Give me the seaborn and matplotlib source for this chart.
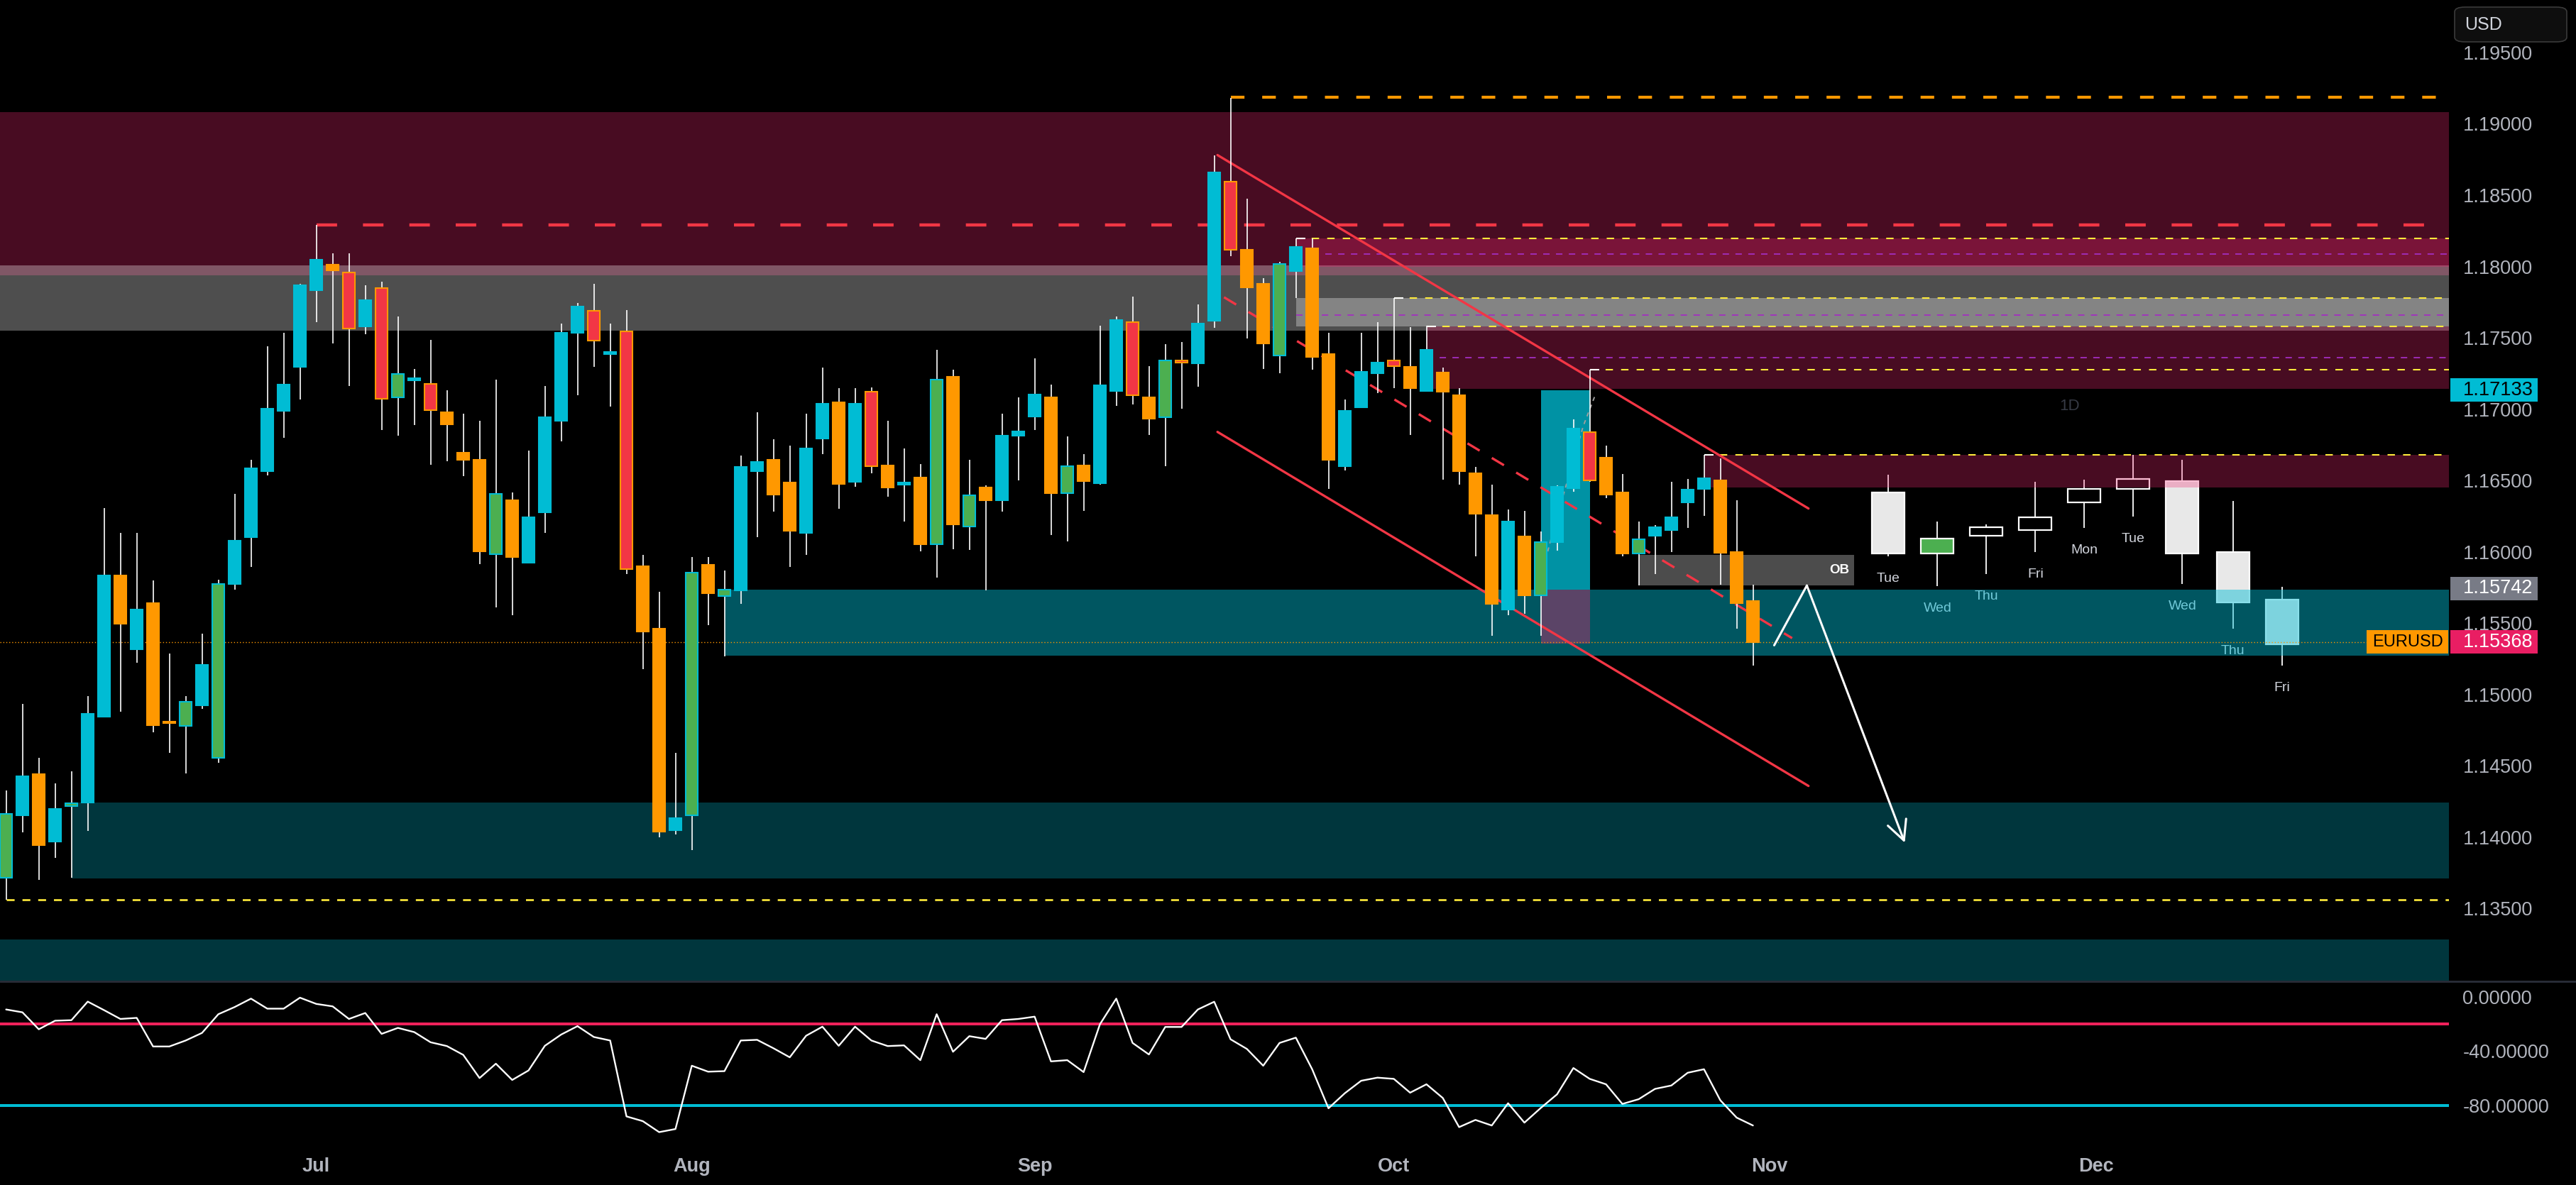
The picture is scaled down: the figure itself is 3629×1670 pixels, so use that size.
import numpy as np
import pandas as pd
import matplotlib
matplotlib.use("Agg")
import matplotlib.pyplot as plt
import matplotlib.transforms as mtransforms
from matplotlib.patches import Rectangle, FancyBboxPatch
from matplotlib.lines import Line2D
from matplotlib.ticker import FormatStrFormatter
import seaborn as sns

# Datos: velas diarias EURUSD (primera vela 2025-06-04)
# ==============================================================================
opens = [1.13712, 1.14153, 1.14442, 1.13970, 1.14218, 1.14244, 1.14842, 1.15835, 1.15314, 1.15641,
         1.14808, 1.14777, 1.14922, 1.14556, 1.15774, 1.16102, 1.16566, 1.16988, 1.17297, 1.17833,
         1.18012, 1.17959, 1.17582, 1.17849, 1.17080, 1.17205, 1.17175, 1.16977, 1.16692, 1.16642,
         1.15984, 1.16360, 1.15923, 1.16277, 1.16916, 1.17533, 1.17689, 1.17388, 1.17544, 1.15900,
         1.15462, 1.14050, 1.14153, 1.15908, 1.15691, 1.15729, 1.16566, 1.16642, 1.16486, 1.16132,
         1.16794, 1.17049, 1.16490, 1.17122, 1.16604, 1.16475, 1.16520, 1.16052, 1.17228, 1.16178,
         1.16448, 1.16360, 1.16813, 1.16947, 1.17084, 1.16410, 1.16604, 1.16478, 1.17126, 1.17609,
         1.17084, 1.16943, 1.17339, 1.17320, 1.17620, 1.18595, 1.18119, 1.17879, 1.17377, 1.17967,
         1.18126, 1.17388, 1.16600, 1.17015, 1.17251, 1.17342, 1.17297, 1.17129, 1.17255, 1.17095,
         1.16551, 1.16258, 1.15595, 1.16106, 1.15694, 1.16067, 1.16444, 1.16840, 1.16661, 1.16414,
         1.15988, 1.16113, 1.16151, 1.16345, 1.16440, 1.16498, 1.15999, 1.15656]
highs = [1.14328, 1.14933, 1.14556, 1.14378, 1.14461, 1.14987, 1.16307, 1.16132, 1.16132, 1.15797,
         1.15287, 1.14990, 1.15428, 1.15805, 1.16406, 1.16642, 1.17441, 1.17533, 1.17879, 1.18290,
         1.18092, 1.18092, 1.17868, 1.17894, 1.17647, 1.17282, 1.17487, 1.17133, 1.16969, 1.16920,
         1.17209, 1.16414, 1.16711, 1.17160, 1.17601, 1.17746, 1.17879, 1.17601, 1.17696, 1.15980,
         1.15717, 1.14591, 1.15961, 1.15961, 1.15866, 1.16676, 1.16977, 1.16787, 1.16745, 1.16966,
         1.17293, 1.17145, 1.17145, 1.17152, 1.16920, 1.16726, 1.16615, 1.17415, 1.17274, 1.16642,
         1.16467, 1.16966, 1.17080, 1.17358, 1.17171, 1.16810, 1.16684, 1.17586, 1.17651, 1.17788,
         1.17301, 1.17453, 1.17468, 1.17735, 1.18781, 1.19181, 1.18477, 1.17917, 1.18031, 1.18195,
         1.18195, 1.17533, 1.17065, 1.17533, 1.17609, 1.17780, 1.17575, 1.17586, 1.17293, 1.17145,
         1.16596, 1.16471, 1.16296, 1.16288, 1.16140, 1.16467, 1.16927, 1.17274, 1.16745, 1.16543,
         1.16212, 1.16185, 1.16490, 1.16509, 1.16680, 1.16653, 1.16360, 1.15767]
lows = [1.13559, 1.14031, 1.13700, 1.13852, 1.13712, 1.14043, 1.14842, 1.14880, 1.15222, 1.14732,
        1.14591, 1.14446, 1.14899, 1.14522, 1.15736, 1.15892, 1.16536, 1.16798, 1.17068, 1.17609,
        1.17460, 1.17164, 1.17525, 1.16855, 1.16813, 1.16886, 1.16612, 1.16634, 1.16532, 1.15915,
        1.15611, 1.15557, 1.15923, 1.16132, 1.16775, 1.17099, 1.17297, 1.17019, 1.15843, 1.15177,
        1.13997, 1.14020, 1.13906, 1.15485, 1.15268, 1.15634, 1.16102, 1.16281, 1.15892, 1.15980,
        1.16684, 1.16300, 1.16456, 1.16551, 1.16387, 1.16212, 1.16003, 1.15820, 1.16018, 1.16014,
        1.15729, 1.16281, 1.16501, 1.16855, 1.16117, 1.16071, 1.16288, 1.16471, 1.17023, 1.17034,
        1.16817, 1.16600, 1.17004, 1.17156, 1.17571, 1.18073, 1.17495, 1.17282, 1.17251, 1.17780,
        1.17274, 1.16440, 1.16570, 1.17008, 1.17114, 1.17145, 1.16821, 1.17129, 1.16505, 1.16471,
        1.15968, 1.15413, 1.15557, 1.15565, 1.15413, 1.16007, 1.16421, 1.16490, 1.16376, 1.15968,
        1.15763, 1.15843, 1.15999, 1.16166, 1.16250, 1.15771, 1.15462, 1.15203]
closes = [1.14164, 1.14427, 1.13944, 1.14195, 1.14237, 1.14865, 1.15835, 1.15493, 1.15595, 1.14785,
          1.14800, 1.14948, 1.15207, 1.15774, 1.16075, 1.16585, 1.17004, 1.17171, 1.17868, 1.18046,
          1.17974, 1.17563, 1.17765, 1.17072, 1.17247, 1.17213, 1.16992, 1.16893, 1.16646, 1.16003,
          1.16406, 1.15961, 1.16243, 1.16943, 1.17536, 1.17719, 1.17479, 1.17403, 1.15877, 1.15439,
          1.14039, 1.14134, 1.15854, 1.15710, 1.15736, 1.16593, 1.16631, 1.16402, 1.16147, 1.16722,
          1.17038, 1.16475, 1.17038, 1.16600, 1.16452, 1.16482, 1.16052, 1.17209, 1.16193, 1.16398,
          1.16360, 1.16813, 1.16844, 1.17103, 1.16410, 1.16600, 1.16494, 1.17167, 1.17624, 1.17099,
          1.16931, 1.17342, 1.17327, 1.17601, 1.18659, 1.18115, 1.17852, 1.17460, 1.18016, 1.18138,
          1.17365, 1.16646, 1.16988, 1.17259, 1.17327, 1.17301, 1.17148, 1.17415, 1.17122, 1.16566,
          1.16265, 1.15634, 1.16212, 1.15694, 1.16067, 1.16456, 1.16863, 1.16501, 1.16402, 1.15988,
          1.16086, 1.16170, 1.16243, 1.16437, 1.16513, 1.15991, 1.15641, 1.15368]
# c = alcista, o = bajista, g = alcista fuerte, r = bajista fuerte
kinds = list("gcocgccoco" "ogcgcccccc" "orcrgcrooo" "goccccrcro" "ocgogccooc"
             "cocrocogog" "occcogoccr" "ogrccroogc" "oocccrocoo" "oocogccroo" "gccccooo")

# Williams %R
williams_r = [-9.2, -11.3, -23.8, -17.5, -17.1, -3.4, -9.7, -16.2, -15.4, -36.5,
              -36.5, -32.1, -26.5, -12.7, -7.4, -1.2, -8.6, -8.6, -0.5, -5.1,
              -6.9, -16.2, -11.8, -27.2, -22.8, -25.9, -33.4, -36.2, -42.7, -59.8,
              -49.2, -61.2, -54.2, -36.0, -27.7, -21.5, -29.5, -32.1, -88.1, -91.6,
              -99.7, -97.4, -50.7, -55.1, -54.7, -32.1, -31.6, -37.8, -44.5, -28.6,
              -21.9, -36.0, -21.9, -32.1, -36.2, -35.7, -46.6, -12.7, -40.4, -28.9,
              -30.9, -17.1, -16.2, -14.5, -47.5, -46.6, -55.4, -20.1, -1.2, -33.9,
              -42.4, -22.1, -22.1, -9.2, -3.5, -31.2, -38.3, -50.7, -33.9, -30.0,
              -53.3, -82.1, -71.0, -61.8, -59.5, -60.4, -70.6, -64.4, -74.5, -96.0,
              -90.7, -94.8, -78.4, -92.7, -81.9, -71.8, -52.4, -60.4, -64.4, -78.9,
              -75.4, -67.8, -65.3, -55.9, -53.3, -76.2, -89.0, -94.8]

# Proyeccion de velas (barras fantasma)
fc_pos = [115.3, 118.3, 121.3, 124.3, 127.3, 130.3, 133.3, 136.4, 139.4]
fc_open = [1.16417, 1.15986, 1.16172, 1.16243, 1.16439, 1.16510, 1.16497, 1.15999, 1.15666]
fc_close = [1.15990, 1.16092, 1.16114, 1.16150, 1.16346, 1.16439, 1.15990, 1.15644, 1.15350]
fc_high = [1.16541, 1.16212, 1.16190, 1.16492, 1.16505, 1.16679, 1.16643, 1.16354, 1.15755]
fc_low = [1.15968, 1.15759, 1.15844, 1.15999, 1.16168, 1.16248, 1.15773, 1.15461, 1.15204]
fc_days = ["Tue", "Wed", "Thu", "Fri", "Mon", "Tue", "Wed", "Thu", "Fri"]
fc_style = ["fill", "green", "hollow", "hollow", "hollow", "hollow", "fill", "fill", "fill"]

# Niveles horizontales (precio, vela de inicio)
yellow_levels = [(1.18195, 79), (1.17781, 85), (1.17581, 87), (1.17274, 97), (1.16679, 104)]
purple_levels = [(1.18087, 80), (1.17661, 79), (1.17361, 87)]
red_level = (1.18290, 19)
orange_level = (1.19184, 75)
bottom_level = (1.13559, 0)

# Canal bajista y flecha
chan_x = [74.2, 110.4]
chan_upper = [1.18781, 1.16303]
chan_lower = [1.16840, 1.14358]
mid_x = [74.6, 109.4]
mid_y = [1.17784, 1.15394]
arrow_x = [108.3, 110.3, 116.3]
arrow_y = [1.15344, 1.15763, 1.13960]
curve_x = [94.3, 95.0, 95.8, 96.6, 97.3]
curve_y = [1.15946, 1.16250, 1.16560, 1.16880, 1.17087]

last_close = closes[-1]

# Configuracion
# ==============================================================================
sns.set_theme(style="dark", rc={"axes.facecolor": "#000000", "figure.facecolor": "#000000",
                                "axes.edgecolor": "#000000", "axes.grid": False})
plt.rcParams["font.family"] = ["Liberation Sans", "DejaVu Sans"]

W, H = 3630, 1670
TXT = "#b2b5be"
MAROON = "#f02871"
CYAN = "#00bcd4"
ORANGE = "#ff9800"
FS = 19.5

fig = plt.figure(figsize=(W / 100, H / 100), dpi=100)
ax = fig.add_axes([0, 1 - 1382 / H, 3450 / W, 1382 / H])
ax2 = fig.add_axes([0, 1 - 1610 / H, 3450 / W, 225 / H], sharex=ax)

XL, XR = -0.374, 149.63
YB, YT = 1.12993, 1.19868
ax.set_xlim(XL, XR)
ax.set_ylim(YB, YT)

def zone(x0, x1, lo, hi, color, alpha, z=2):
    ax.add_patch(Rectangle((x0, lo), x1 - x0, hi - lo, facecolor=color, alpha=alpha,
                           lw=0, zorder=z))

# Velas proyectadas (debajo de las zonas)
fc_w = 2.0
for xp, op, cl, hi, lo, st, day in zip(fc_pos, fc_open, fc_close, fc_high, fc_low, fc_style, fc_days):
    top, bot = max(op, cl), min(op, cl)
    ax.vlines(xp, top, hi, color="white", lw=1.3, zorder=1)
    ax.vlines(xp, lo, bot, color="white", lw=1.3, zorder=1)
    fc = {"fill": "#e8e8e8", "green": "#4caf50", "hollow": "none"}[st]
    ax.add_patch(Rectangle((xp - fc_w / 2, bot), fc_w, top - bot, facecolor=fc,
                           edgecolor="white", lw=1.6, zorder=1))
    ax.text(xp, lo - 0.00157, day, color="#d1d4dc", fontsize=14, ha="center", va="center", zorder=1)

# Zonas
zone(XL, XR, 1.17940, 1.19080, MAROON, 0.30)
zone(XL, XR, 1.17552, 1.18008, "white", 0.31)
zone(79, XR, 1.18000, 1.18195, MAROON, 0.30)
zone(79, XR, 1.17581, 1.17781, "white", 0.31)
zone(87, XR, 1.17140, 1.17580, MAROON, 0.30)
zone(104, XR, 1.16448, 1.16679, MAROON, 0.30)
zone(44, XR, 1.15272, 1.15736, CYAN, 0.46)
zone(94, 97, 1.15736, 1.17133, CYAN, 0.78, z=3)
zone(94, 97, 1.15356, 1.15736, MAROON, 0.38, z=3)
zone(100, 113.2, 1.15763, 1.15980, "white", 0.30, z=3)
zone(4, XR, 1.13709, 1.14241, CYAN, 0.29)
zone(XL, XR, YB - 0.01, 1.13281, CYAN, 0.29)
ax.text(112.9, 1.15871, "OB", color="white", fontsize=13.5, fontweight="bold",
        ha="right", va="center", zorder=4)
ax.text(126.4, 1.17022, "1D", color="#363a45", fontsize=16, ha="center", va="center", zorder=1)

# Niveles
for y, s in yellow_levels:
    ax.hlines(y, s, XR, color="#ffeb3b", lw=1.5, linestyles=(0, (5, 5.5)), zorder=4)
    ax.hlines(y, s, s + 0.6, color="white", lw=1.5, zorder=4)
for y, s in purple_levels:
    ax.hlines(y, s, XR, color="#a22fc0", lw=1.3, linestyles=(0, (5, 5)), zorder=4)
ax.hlines(red_level[0], red_level[1], XR, color="#f23645", lw=3.2, linestyles=(0, (6.5, 8.2)), zorder=4)
ax.hlines(orange_level[0], orange_level[1], XR - 0.8, color=ORANGE, lw=3.0,
          linestyles=(0, (4.6, 6.0)), zorder=4)
ax.hlines(bottom_level[0], bottom_level[1], XR, color="#ffeb3b", lw=1.9,
          linestyles=(0, (4.2, 4.2)), zorder=4)
ax.axhline(last_close, color=ORANGE, lw=1.0, ls=(0, (1, 2)), zorder=4)

# Canal
ax.plot(chan_x, chan_upper, color="#f23645", lw=2.4, zorder=5)
ax.plot(chan_x, chan_lower, color="#f23645", lw=2.4, zorder=5)
ax.plot(mid_x, mid_y, color="#f23645", lw=2.4, ls=(0, (6, 6)), zorder=5)
ax.plot(curve_x, curve_y, color="#9e9e9e", lw=1.4, ls=(0, (3, 3)), zorder=5)

# Velas historicas
x = np.arange(len(opens))
o, c, h, l = map(np.array, (opens, closes, highs, lows))
lo_b, hi_b = np.minimum(o, c), np.maximum(o, c)
body = np.maximum(hi_b - lo_b, 0.00012)
mid = (lo_b + hi_b) / 2
fill_map = {"c": CYAN, "o": ORANGE, "g": "#4caf50", "r": "#f23645"}
edge_map = {"c": CYAN, "o": ORANGE, "g": CYAN, "r": ORANGE}
ax.vlines(x, l, h, color="white", lw=1.2, zorder=6)
ax.bar(x, body, bottom=mid - body / 2, width=0.72, color=[fill_map[k] for k in kinds],
       edgecolor=[edge_map[k] for k in kinds], linewidth=1.5, zorder=7)

# Flecha
ax.plot(arrow_x[:2], arrow_y[:2], color="white", lw=2.2, zorder=8, solid_capstyle="round")
ax.annotate("", xy=(arrow_x[2], arrow_y[2]), xytext=(arrow_x[1], arrow_y[1]),
            arrowprops=dict(arrowstyle="->,head_length=0.9,head_width=0.45", color="white",
                            lw=2.2, shrinkA=0, shrinkB=0, mutation_scale=22), zorder=8)

# Eje de precios
ax.yaxis.tick_right()
ax.set_yticks(np.arange(1.135, 1.1951, 0.005))
ax.yaxis.set_major_formatter(FormatStrFormatter("%.5f"))
ax.tick_params(axis="y", length=0, pad=14, labelsize=FS, labelcolor=TXT)
ax.tick_params(axis="x", bottom=False, labelbottom=False)
for s in ax.spines.values():
    s.set_visible(False)

# Etiquetas del eje
bt = mtransforms.blended_transform_factory(ax.transAxes, ax.transData)
ph = 33 * (YT - YB) / 1382
for val, fcol, tcol in [(1.17133, CYAN, "black"), (1.15742, "#787b86", "white"),
                        (last_close, "#e91e63", "white")]:
    ax.add_patch(Rectangle((1.0006, val - ph / 2), 0.0356, ph, transform=bt, facecolor=fcol,
                           lw=0, clip_on=False, zorder=20))
    ax.text(1.0058, val, f"{val:.5f}", transform=bt, color=tcol, fontsize=FS,
            va="center", ha="left", zorder=21, clip_on=False)
ax.add_patch(Rectangle((0.9664, last_close - ph / 2), 0.0333, ph, transform=bt, facecolor=ORANGE,
                       lw=0, clip_on=False, zorder=20))
ax.text(0.98305, last_close, "EURUSD", transform=bt, color="black", fontsize=17,
        va="center", ha="center", zorder=21, clip_on=False)

# Williams %R
ax2.set_ylim(-107.3, 10.5)
ax2.axhline(-20, color="#f0215b", lw=2.9, zorder=2)
ax2.axhline(-80, color=CYAN, lw=2.9, zorder=2)
sns.lineplot(x=x, y=williams_r, ax=ax2, color="white", lw=1.7, zorder=3)
ax2.yaxis.tick_right()
ax2.set_yticks([0, -40, -80])
ax2.yaxis.set_major_formatter(FormatStrFormatter("%.5f"))
ax2.tick_params(axis="y", length=0, pad=14, labelsize=FS, labelcolor=TXT)
ax2.set_ylabel("")

dates = pd.bdate_range("2025-06-04", periods=150)
months = pd.date_range("2025-07-01", "2025-12-01", freq="MS")
tick_idx = [int(np.searchsorted(dates, m)) for m in months]
ax2.set_xticks(tick_idx)
ax2.set_xticklabels([m.strftime("%b") for m in months])
ax2.tick_params(axis="x", length=0, pad=15, labelsize=FS, labelcolor=TXT)
for lab in ax2.get_xticklabels():
    lab.set_fontweight("bold")
ax2.set_xlabel("")
for s in ax2.spines.values():
    s.set_visible(False)

# Separador de paneles y caja de moneda
fig.add_artist(Line2D([0, 1], [1 - 1383 / H] * 2, color="#2a2e39", lw=2, transform=fig.transFigure))
fig.add_artist(FancyBboxPatch((3458 / W, 1 - 59 / H), 158 / W, 49 / H,
                              boxstyle="round,pad=0,rounding_size=0.004",
                              transform=fig.transFigure, facecolor="#0e0e0e",
                              edgecolor="#3a3a3a", lw=1.2))
fig.text(3472 / W, 1 - 35 / H, "USD", color="#d1d4dc", fontsize=18, va="center", ha="left")

fig.savefig("out.png", dpi=100, facecolor="#000000")
